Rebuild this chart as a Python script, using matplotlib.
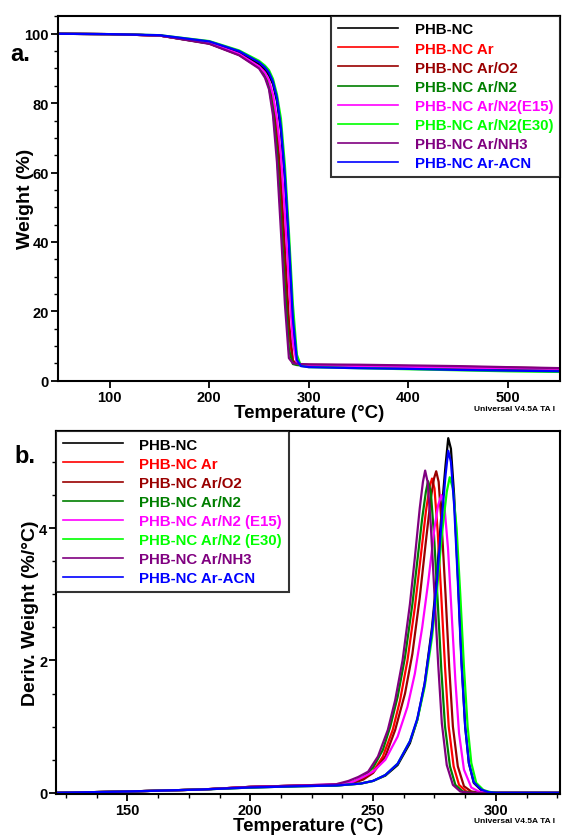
import matplotlib
matplotlib.use("Agg")
import matplotlib.pyplot as plt
from matplotlib.ticker import MultipleLocator

plt.rcParams["font.family"] = ["Liberation Sans", "DejaVu Sans"]
plt.rcParams["font.weight"] = "bold"

names_a = ["PHB-NC", "PHB-NC Ar", "PHB-NC Ar/O2", "PHB-NC Ar/N2", "PHB-NC Ar/N2(E15)",
           "PHB-NC Ar/N2(E30)", "PHB-NC Ar/NH3", "PHB-NC Ar-ACN"]
names_b = ["PHB-NC", "PHB-NC Ar", "PHB-NC Ar/O2", "PHB-NC Ar/N2", "PHB-NC Ar/N2 (E15)",
           "PHB-NC Ar/N2 (E30)", "PHB-NC Ar/NH3", "PHB-NC Ar-ACN"]
colors = ["#000000", "#ff0000", "#990000", "#007f00", "#ff00ff", "#00ff00", "#800080", "#0000ff"]

# --- a. TGA: weight (%) vs temperature (°C), shared temperature grid
t_tga = [48, 100, 150, 200, 230, 250, 256, 260, 264, 268, 272, 276, 280, 284, 288, 292,
         300, 350, 400, 450, 500, 555]
w_nc = [100, 99.9, 99.5, 97.6, 94.6, 91.2, 89.6, 88.0, 85.5, 80.5, 72, 58, 39, 17, 5.6, 4.6,
        4.4, 4.1, 3.9, 3.6, 3.4, 3.2]
w_ar = [100, 99.9, 99.5, 97.3, 94.0, 90.4, 88.3, 85.8, 80.5, 71, 55, 35, 14, 5.4, 4.6, 4.5,
        4.4, 4.2, 4.0, 3.8, 3.6, 3.3]
w_ar_o2 = [100, 99.9, 99.5, 97.2, 93.9, 90.2, 88.2, 85.8, 80.8, 72, 58, 38, 17, 5.8, 4.8, 4.7,
           4.6, 4.4, 4.2, 4.0, 3.8, 3.5]
w_ar_n2 = [100, 99.9, 99.5, 97.2, 94.0, 90.4, 87.8, 84.6, 78, 66, 47, 27, 9, 4.8, 4.5, 4.4,
           4.3, 4.1, 3.9, 3.7, 3.5, 3.2]
w_e15 = [100, 99.9, 99.5, 97.4, 94.2, 90.6, 88.8, 86.6, 82.5, 75.5, 65, 48, 28, 11, 5.0, 4.6,
         4.5, 4.2, 4.0, 3.8, 3.6, 3.4]
w_e30 = [100, 99.9, 99.6, 97.9, 95.2, 92.2, 90.8, 89.5, 87, 82.5, 75.5, 62, 43, 22, 7.5, 4.3,
         3.9, 3.6, 3.3, 3.0, 2.7, 2.5]
w_nh3 = [100, 99.9, 99.5, 97.1, 93.8, 90.0, 87.3, 84, 76.5, 63, 43, 22, 6.5, 5.0, 4.9, 4.8,
         4.7, 4.6, 4.4, 4.2, 3.9, 3.6]
w_acn = [100, 99.9, 99.6, 97.8, 95.0, 91.8, 90.3, 88.8, 86.2, 81.5, 73, 59, 40, 18, 6.0, 4.2,
         3.9, 3.6, 3.4, 3.1, 2.9, 2.7]
weights = [w_nc, w_ar, w_ar_o2, w_ar_n2, w_e15, w_e30, w_nh3, w_acn]

# --- b. DTG: deriv. weight (%/°C) vs temperature, one temperature list per sample
t_nc = [121, 150, 180, 200, 220, 235, 245, 250, 255, 260, 265, 268, 271, 274, 276, 278, 279.5,
        280.6, 281.7, 283, 284.5, 286, 287.5, 289, 291, 294, 297, 300, 326]
d_nc = [0, 0.02, 0.05, 0.08, 0.1, 0.11, 0.14, 0.18, 0.26, 0.42, 0.75, 1.1, 1.65, 2.5, 3.3, 4.3,
        4.95, 5.36, 5.2, 4.5, 3.3, 2.0, 1.0, 0.45, 0.15, 0.04, 0.01, 0, 0]
t_ar = [121, 150, 180, 200, 220, 235, 242, 246, 250, 254, 258, 261, 264, 267, 269.5, 271.5, 273,
        274, 275, 276.3, 277.8, 279.3, 280.8, 282.8, 285, 288, 292, 326]
d_ar = [0, 0.02, 0.05, 0.09, 0.11, 0.12, 0.16, 0.22, 0.32, 0.55, 0.95, 1.4, 2.0, 2.8, 3.6, 4.25,
        4.62, 4.75, 4.6, 3.95, 2.95, 1.9, 1.0, 0.4, 0.12, 0.02, 0, 0]
t_ar_o2 = [121, 150, 180, 200, 220, 235, 242, 246, 250, 255, 259, 263, 266, 269, 271.5, 273.5,
           274.8, 275.7, 276.7, 278, 279.5, 281, 282.5, 284.5, 287, 290, 294, 326]
d_ar_o2 = [0, 0.02, 0.05, 0.09, 0.11, 0.12, 0.15, 0.2, 0.3, 0.55, 0.95, 1.5, 2.1, 2.95, 3.8, 4.45,
           4.75, 4.86, 4.7, 4.0, 3.0, 1.9, 1.0, 0.4, 0.1, 0.02, 0, 0]
t_ar_n2 = [121, 150, 180, 200, 220, 235, 242, 246, 250, 254, 257, 260, 263, 266, 268, 270, 271.5,
           272.4, 273.5, 274.8, 276.3, 277.8, 279.3, 281.3, 283.5, 286.5, 290, 326]
d_ar_n2 = [0, 0.02, 0.05, 0.09, 0.11, 0.12, 0.17, 0.24, 0.38, 0.65, 1.0, 1.45, 2.05, 2.85, 3.5,
           4.15, 4.55, 4.71, 4.55, 3.9, 2.9, 1.85, 1.0, 0.4, 0.12, 0.02, 0, 0]
t_e15 = [121, 150, 180, 200, 220, 235, 242, 246, 250, 255, 260, 264, 267, 270, 272.5, 275, 276.5,
         277.8, 279, 280.5, 282, 283.5, 285, 287, 290, 293, 297, 326]
d_e15 = [0, 0.02, 0.05, 0.09, 0.11, 0.13, 0.17, 0.24, 0.32, 0.5, 0.85, 1.3, 1.8, 2.5, 3.2, 4.0,
         4.35, 4.5, 4.35, 3.7, 2.7, 1.7, 0.9, 0.35, 0.08, 0.02, 0, 0]
t_e30 = [121, 150, 180, 200, 220, 235, 245, 250, 255, 260, 265, 268, 271, 274, 276, 278, 280,
         281.2, 282.5, 284, 285.5, 287, 288.5, 290, 292, 295, 298, 301, 326]
d_e30 = [0, 0.02, 0.05, 0.08, 0.1, 0.11, 0.14, 0.18, 0.27, 0.44, 0.78, 1.1, 1.6, 2.35, 3.05, 3.9,
         4.55, 4.77, 4.6, 4.0, 3.0, 1.9, 1.0, 0.45, 0.15, 0.04, 0.01, 0, 0]
t_nh3 = [121, 150, 180, 200, 220, 235, 240, 244, 248, 252, 256, 259, 262, 265, 267, 269, 270.3,
         271.2, 272.2, 273.5, 275, 276.5, 278, 280, 282.5, 285.5, 289, 326]
d_nh3 = [0, 0.02, 0.05, 0.09, 0.11, 0.13, 0.18, 0.24, 0.32, 0.55, 0.95, 1.4, 2.0, 2.85, 3.55, 4.3,
         4.7, 4.87, 4.7, 4.05, 3.0, 1.95, 1.05, 0.42, 0.12, 0.02, 0, 0]
t_acn = t_nc
d_acn = [0, 0.02, 0.05, 0.08, 0.1, 0.11, 0.14, 0.18, 0.27, 0.44, 0.78, 1.12, 1.65, 2.45, 3.2, 4.15,
         4.8, 5.17, 5.0, 4.35, 3.2, 1.95, 1.0, 0.45, 0.16, 0.05, 0.01, 0, 0]
dtg = [(t_nc, d_nc), (t_ar, d_ar), (t_ar_o2, d_ar_o2), (t_ar_n2, d_ar_n2),
       (t_e15, d_e15), (t_e30, d_e30), (t_nh3, d_nh3), (t_acn, d_acn)]

fig = plt.figure(figsize=(5.62, 8.37), dpi=100)
ax1 = fig.add_axes([0.103, 0.544, 0.893, 0.436])
ax2 = fig.add_axes([0.100, 0.050, 0.896, 0.434])

for w, c, n in zip(weights, colors, names_a):
    ax1.plot(t_tga, w, color=c, lw=1.6, label=n)
for (t, d), c, n in zip(dtg, colors, names_b):
    ax2.plot(t, d, color=c, lw=1.6, label=n)

ax1.set_xlim(48, 552)
ax1.set_ylim(0, 105.2)
ax1.xaxis.set_major_locator(MultipleLocator(100))
ax1.yaxis.set_major_locator(MultipleLocator(20))
ax1.yaxis.set_minor_locator(MultipleLocator(5))
ax1.set_ylabel("Weight (%)", fontsize=14, fontweight="bold")
ax1.yaxis.set_label_coords(-0.048, 0.5)
ax1.set_xlabel("Temperature (°C)", fontsize=13.5, fontweight="bold", labelpad=0)

ax2.set_xlim(121, 326)
ax2.set_ylim(-0.02, 5.47)
ax2.xaxis.set_major_locator(MultipleLocator(50))
ax2.xaxis.set_minor_locator(MultipleLocator(12.5))
ax2.yaxis.set_major_locator(MultipleLocator(2))
ax2.yaxis.set_minor_locator(MultipleLocator(0.5))
ax2.set_ylabel("Deriv. Weight (%/°C)", fontsize=14, fontweight="bold")
ax2.yaxis.set_label_coords(-0.034, 0.5)
ax2.set_xlabel("Temperature (°C)", fontsize=13.5, fontweight="bold")
ax2.xaxis.set_label_coords(0.5, -0.063)

for ax in (ax1, ax2):
    for s in ax.spines.values():
        s.set_linewidth(1.5)
    ax.tick_params(which="major", direction="out", length=5, width=1.3, labelsize=10.5, pad=1.5)
    ax.tick_params(which="minor", direction="out", length=3, width=1.0)
    for lab in ax.get_xticklabels() + ax.get_yticklabels():
        lab.set_fontweight("bold")

leg_kw = dict(fontsize=10.8, frameon=True, fancybox=False, edgecolor="black",
              handlelength=4.0, handletextpad=1.1, labelspacing=0.34, borderaxespad=0.0,
              borderpad=0.45)
leg1 = ax1.legend(loc="upper right", **leg_kw)
leg2 = ax2.legend(loc="upper left", **leg_kw)
for leg in (leg1, leg2):
    leg.get_frame().set_linewidth(1.5)
    for txt, c in zip(leg.get_texts(), colors):
        txt.set_color(c)
        txt.set_fontweight("bold")
    for ln in leg.get_lines():
        ln.set_linewidth(1.2)

fig.text(0.018, 0.935, "a.", fontsize=17, fontweight="bold", va="center")
fig.text(0.025, 0.455, "b.", fontsize=17, fontweight="bold", va="center")
fig.text(0.843, 0.511, "Universal V4.5A TA I", fontsize=6, fontweight="bold", va="center")
fig.text(0.843, 0.019, "Universal V4.5A TA I", fontsize=6, fontweight="bold", va="center")

fig.savefig("out.png", dpi=100)
